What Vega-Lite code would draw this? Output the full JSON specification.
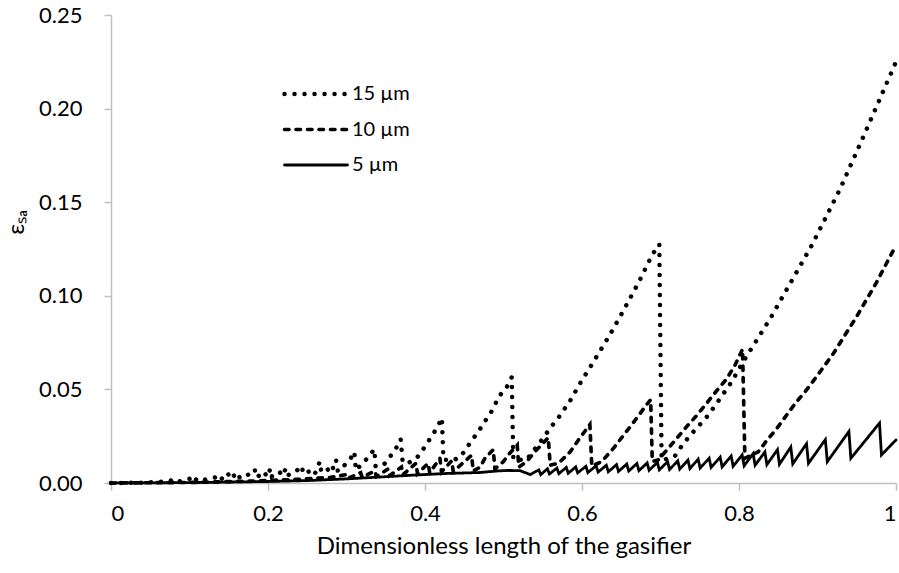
{
  "$schema": "https://vega.github.io/schema/vega-lite/v6.json",
  "width": 785,
  "height": 468,
  "autosize": {"type": "none"},
  "padding": {"left": 111, "top": 15, "right": 3, "bottom": 90},
  "background": "white",
  "config": {
    "view": {"stroke": null},
    "font": "Lato",
    "axis": {
      "grid": false,
      "domainColor": "#bfbfbf",
      "domainWidth": 1.5,
      "tickColor": "#bfbfbf",
      "tickWidth": 1.5,
      "tickSize": 7,
      "labelFont": "Lato",
      "labelFontSize": 22,
      "labelColor": "#000000",
      "titleFont": "Lato",
      "titleFontSize": 24,
      "titleFontWeight": "normal",
      "titleColor": "#000000"
    }
  },
  "data": {
    "values": [
      {"s": "15 µm", "x": 0, "y": 0},
      {"s": "15 µm", "x": 0.04, "y": 0.0002},
      {"s": "15 µm", "x": 0.07, "y": 0.0008},
      {"s": "15 µm", "x": 0.084, "y": 0.0019},
      {"s": "15 µm", "x": 0.086, "y": 0.0008},
      {"s": "15 µm", "x": 0.098, "y": 0.0018},
      {"s": "15 µm", "x": 0.107, "y": 0.0038},
      {"s": "15 µm", "x": 0.109, "y": 0.0012},
      {"s": "15 µm", "x": 0.125, "y": 0.0022},
      {"s": "15 µm", "x": 0.137, "y": 0.0034},
      {"s": "15 µm", "x": 0.139, "y": 0.0015},
      {"s": "15 µm", "x": 0.149, "y": 0.0054},
      {"s": "15 µm", "x": 0.151, "y": 0.0022},
      {"s": "15 µm", "x": 0.162, "y": 0.0056},
      {"s": "15 µm", "x": 0.164, "y": 0.0026},
      {"s": "15 µm", "x": 0.175, "y": 0.0045},
      {"s": "15 µm", "x": 0.183, "y": 0.0074},
      {"s": "15 µm", "x": 0.185, "y": 0.003},
      {"s": "15 µm", "x": 0.196, "y": 0.006},
      {"s": "15 µm", "x": 0.198, "y": 0.0032},
      {"s": "15 µm", "x": 0.2034, "y": 0.0077},
      {"s": "15 µm", "x": 0.205, "y": 0.0036},
      {"s": "15 µm", "x": 0.215, "y": 0.006},
      {"s": "15 µm", "x": 0.217, "y": 0.0038},
      {"s": "15 µm", "x": 0.223, "y": 0.0077},
      {"s": "15 µm", "x": 0.225, "y": 0.0042},
      {"s": "15 µm", "x": 0.234, "y": 0.0055},
      {"s": "15 µm", "x": 0.243, "y": 0.0091},
      {"s": "15 µm", "x": 0.245, "y": 0.0048},
      {"s": "15 µm", "x": 0.258, "y": 0.0072},
      {"s": "15 µm", "x": 0.26, "y": 0.0052},
      {"s": "15 µm", "x": 0.266, "y": 0.0114},
      {"s": "15 µm", "x": 0.268, "y": 0.0056},
      {"s": "15 µm", "x": 0.279, "y": 0.0077},
      {"s": "15 µm", "x": 0.281, "y": 0.006},
      {"s": "15 µm", "x": 0.2866, "y": 0.0125},
      {"s": "15 µm", "x": 0.289, "y": 0.0062},
      {"s": "15 µm", "x": 0.3036, "y": 0.0119},
      {"s": "15 µm", "x": 0.31, "y": 0.0167},
      {"s": "15 µm", "x": 0.312, "y": 0.0068},
      {"s": "15 µm", "x": 0.3236, "y": 0.0118},
      {"s": "15 µm", "x": 0.3355, "y": 0.018},
      {"s": "15 µm", "x": 0.337, "y": 0.009},
      {"s": "15 µm", "x": 0.347, "y": 0.0095},
      {"s": "15 µm", "x": 0.3546, "y": 0.0136},
      {"s": "15 µm", "x": 0.3618, "y": 0.0175},
      {"s": "15 µm", "x": 0.369, "y": 0.0234},
      {"s": "15 µm", "x": 0.3716, "y": 0.0108},
      {"s": "15 µm", "x": 0.38, "y": 0.011},
      {"s": "15 µm", "x": 0.387, "y": 0.0125},
      {"s": "15 µm", "x": 0.394, "y": 0.0155},
      {"s": "15 µm", "x": 0.401, "y": 0.0203},
      {"s": "15 µm", "x": 0.4085, "y": 0.0249},
      {"s": "15 µm", "x": 0.4157, "y": 0.0298},
      {"s": "15 µm", "x": 0.4215, "y": 0.0348},
      {"s": "15 µm", "x": 0.4235, "y": 0.0125},
      {"s": "15 µm", "x": 0.435, "y": 0.012},
      {"s": "15 µm", "x": 0.4446, "y": 0.0137},
      {"s": "15 µm", "x": 0.452, "y": 0.018},
      {"s": "15 µm", "x": 0.46, "y": 0.023},
      {"s": "15 µm", "x": 0.468, "y": 0.0274},
      {"s": "15 µm", "x": 0.475, "y": 0.0322},
      {"s": "15 µm", "x": 0.483, "y": 0.0369},
      {"s": "15 µm", "x": 0.489, "y": 0.0417},
      {"s": "15 µm", "x": 0.4947, "y": 0.0465},
      {"s": "15 µm", "x": 0.504, "y": 0.0511},
      {"s": "15 µm", "x": 0.5105, "y": 0.0565},
      {"s": "15 µm", "x": 0.5125, "y": 0.0125},
      {"s": "15 µm", "x": 0.5295, "y": 0.0123},
      {"s": "15 µm", "x": 0.537, "y": 0.0167},
      {"s": "15 µm", "x": 0.5456, "y": 0.0212},
      {"s": "15 µm", "x": 0.561, "y": 0.0302},
      {"s": "15 µm", "x": 0.57, "y": 0.0349},
      {"s": "15 µm", "x": 0.585, "y": 0.044},
      {"s": "15 µm", "x": 0.598, "y": 0.0536},
      {"s": "15 µm", "x": 0.612, "y": 0.063},
      {"s": "15 µm", "x": 0.6336, "y": 0.0778},
      {"s": "15 µm", "x": 0.6526, "y": 0.092},
      {"s": "15 µm", "x": 0.672, "y": 0.107},
      {"s": "15 µm", "x": 0.6896, "y": 0.122},
      {"s": "15 µm", "x": 0.6985, "y": 0.1275},
      {"s": "15 µm", "x": 0.7014, "y": 0.012},
      {"s": "15 µm", "x": 0.7185, "y": 0.0145},
      {"s": "15 µm", "x": 0.729, "y": 0.021},
      {"s": "15 µm", "x": 0.742, "y": 0.0274},
      {"s": "15 µm", "x": 0.752, "y": 0.032},
      {"s": "15 µm", "x": 0.761, "y": 0.0363},
      {"s": "15 µm", "x": 0.776, "y": 0.0452},
      {"s": "15 µm", "x": 0.7906, "y": 0.054},
      {"s": "15 µm", "x": 0.805, "y": 0.0646},
      {"s": "15 µm", "x": 0.84, "y": 0.088},
      {"s": "15 µm", "x": 0.8925, "y": 0.1268},
      {"s": "15 µm", "x": 0.9287, "y": 0.157},
      {"s": "15 µm", "x": 0.956, "y": 0.1827},
      {"s": "15 µm", "x": 0.972, "y": 0.198},
      {"s": "15 µm", "x": 1.0, "y": 0.225},

      {"s": "10 µm", "x": 0, "y": 0},
      {"s": "10 µm", "x": 0.1, "y": 0.0003},
      {"s": "10 µm", "x": 0.18, "y": 0.001},
      {"s": "10 µm", "x": 0.24, "y": 0.002},
      {"s": "10 µm", "x": 0.28, "y": 0.003},
      {"s": "10 µm", "x": 0.3, "y": 0.0045},
      {"s": "10 µm", "x": 0.302, "y": 0.0025},
      {"s": "10 µm", "x": 0.318, "y": 0.0055},
      {"s": "10 µm", "x": 0.32, "y": 0.003},
      {"s": "10 µm", "x": 0.336, "y": 0.0065},
      {"s": "10 µm", "x": 0.338, "y": 0.0035},
      {"s": "10 µm", "x": 0.353, "y": 0.0075},
      {"s": "10 µm", "x": 0.355, "y": 0.004},
      {"s": "10 µm", "x": 0.37, "y": 0.0085},
      {"s": "10 µm", "x": 0.372, "y": 0.0045},
      {"s": "10 µm", "x": 0.3885, "y": 0.0105},
      {"s": "10 µm", "x": 0.3905, "y": 0.005},
      {"s": "10 µm", "x": 0.404, "y": 0.0105},
      {"s": "10 µm", "x": 0.406, "y": 0.0055},
      {"s": "10 µm", "x": 0.419, "y": 0.0132},
      {"s": "10 µm", "x": 0.421, "y": 0.006},
      {"s": "10 µm", "x": 0.434, "y": 0.0118},
      {"s": "10 µm", "x": 0.436, "y": 0.0062},
      {"s": "10 µm", "x": 0.4594, "y": 0.0148},
      {"s": "10 µm", "x": 0.4614, "y": 0.0065},
      {"s": "10 µm", "x": 0.47, "y": 0.0084},
      {"s": "10 µm", "x": 0.4764, "y": 0.0132},
      {"s": "10 µm", "x": 0.487, "y": 0.0178},
      {"s": "10 µm", "x": 0.489, "y": 0.0075},
      {"s": "10 µm", "x": 0.4998, "y": 0.0114},
      {"s": "10 µm", "x": 0.508, "y": 0.0159},
      {"s": "10 µm", "x": 0.5175, "y": 0.0202},
      {"s": "10 µm", "x": 0.5195, "y": 0.0085},
      {"s": "10 µm", "x": 0.5295, "y": 0.0114},
      {"s": "10 µm", "x": 0.54, "y": 0.0167},
      {"s": "10 µm", "x": 0.557, "y": 0.0242},
      {"s": "10 µm", "x": 0.5595, "y": 0.0095},
      {"s": "10 µm", "x": 0.57, "y": 0.0105},
      {"s": "10 µm", "x": 0.585, "y": 0.0167},
      {"s": "10 µm", "x": 0.597, "y": 0.0239},
      {"s": "10 µm", "x": 0.61, "y": 0.0312},
      {"s": "10 µm", "x": 0.6125, "y": 0.009},
      {"s": "10 µm", "x": 0.625, "y": 0.0114},
      {"s": "10 µm", "x": 0.64, "y": 0.0185},
      {"s": "10 µm", "x": 0.6548, "y": 0.0265},
      {"s": "10 µm", "x": 0.6696, "y": 0.0346},
      {"s": "10 µm", "x": 0.682, "y": 0.0417},
      {"s": "10 µm", "x": 0.6875, "y": 0.0445},
      {"s": "10 µm", "x": 0.6895, "y": 0.0115},
      {"s": "10 µm", "x": 0.697, "y": 0.0123},
      {"s": "10 µm", "x": 0.708, "y": 0.0176},
      {"s": "10 µm", "x": 0.72, "y": 0.0235},
      {"s": "10 µm", "x": 0.733, "y": 0.03},
      {"s": "10 µm", "x": 0.746, "y": 0.036},
      {"s": "10 µm", "x": 0.7588, "y": 0.0426},
      {"s": "10 µm", "x": 0.771, "y": 0.049},
      {"s": "10 µm", "x": 0.784, "y": 0.0555},
      {"s": "10 µm", "x": 0.795, "y": 0.063},
      {"s": "10 µm", "x": 0.8045, "y": 0.0715},
      {"s": "10 µm", "x": 0.8075, "y": 0.0132},
      {"s": "10 µm", "x": 0.8246, "y": 0.0167},
      {"s": "10 µm", "x": 0.835, "y": 0.0225},
      {"s": "10 µm", "x": 0.848, "y": 0.029},
      {"s": "10 µm", "x": 0.861, "y": 0.0365},
      {"s": "10 µm", "x": 0.8735, "y": 0.0435},
      {"s": "10 µm", "x": 0.886, "y": 0.0497},
      {"s": "10 µm", "x": 0.8947, "y": 0.0545},
      {"s": "10 µm", "x": 0.92, "y": 0.069},
      {"s": "10 µm", "x": 0.95, "y": 0.089},
      {"s": "10 µm", "x": 0.975, "y": 0.107},
      {"s": "10 µm", "x": 1.0, "y": 0.127},

      {"s": "5 µm", "x": 0, "y": 0},
      {"s": "5 µm", "x": 0.1, "y": 0.0002},
      {"s": "5 µm", "x": 0.2, "y": 0.0008},
      {"s": "5 µm", "x": 0.25, "y": 0.0013},
      {"s": "5 µm", "x": 0.3, "y": 0.0022},
      {"s": "5 µm", "x": 0.343, "y": 0.0032},
      {"s": "5 µm", "x": 0.385, "y": 0.0042},
      {"s": "5 µm", "x": 0.428, "y": 0.0051},
      {"s": "5 µm", "x": 0.47, "y": 0.0056},
      {"s": "5 µm", "x": 0.491, "y": 0.0064},
      {"s": "5 µm", "x": 0.505, "y": 0.0067},
      {"s": "5 µm", "x": 0.521, "y": 0.0066},
      {"s": "5 µm", "x": 0.534, "y": 0.0045},
      {"s": "5 µm", "x": 0.545, "y": 0.007},
      {"s": "5 µm", "x": 0.5475, "y": 0.0045},
      {"s": "5 µm", "x": 0.556, "y": 0.0076},
      {"s": "5 µm", "x": 0.5585, "y": 0.0048},
      {"s": "5 µm", "x": 0.568, "y": 0.008},
      {"s": "5 µm", "x": 0.5705, "y": 0.005},
      {"s": "5 µm", "x": 0.58, "y": 0.0083},
      {"s": "5 µm", "x": 0.5825, "y": 0.0052},
      {"s": "5 µm", "x": 0.592, "y": 0.0086},
      {"s": "5 µm", "x": 0.5945, "y": 0.0054},
      {"s": "5 µm", "x": 0.605, "y": 0.0089},
      {"s": "5 µm", "x": 0.6075, "y": 0.0056},
      {"s": "5 µm", "x": 0.618, "y": 0.0092},
      {"s": "5 µm", "x": 0.6205, "y": 0.0058},
      {"s": "5 µm", "x": 0.631, "y": 0.0095},
      {"s": "5 µm", "x": 0.6335, "y": 0.006},
      {"s": "5 µm", "x": 0.644, "y": 0.0098},
      {"s": "5 µm", "x": 0.6465, "y": 0.0062},
      {"s": "5 µm", "x": 0.657, "y": 0.0101},
      {"s": "5 µm", "x": 0.6595, "y": 0.0064},
      {"s": "5 µm", "x": 0.67, "y": 0.0104},
      {"s": "5 µm", "x": 0.6725, "y": 0.0066},
      {"s": "5 µm", "x": 0.683, "y": 0.0107},
      {"s": "5 µm", "x": 0.6855, "y": 0.0068},
      {"s": "5 µm", "x": 0.696, "y": 0.011},
      {"s": "5 µm", "x": 0.6985, "y": 0.007},
      {"s": "5 µm", "x": 0.709, "y": 0.0114},
      {"s": "5 µm", "x": 0.7115, "y": 0.0072},
      {"s": "5 µm", "x": 0.722, "y": 0.0118},
      {"s": "5 µm", "x": 0.7245, "y": 0.0074},
      {"s": "5 µm", "x": 0.735, "y": 0.0122},
      {"s": "5 µm", "x": 0.7375, "y": 0.0077},
      {"s": "5 µm", "x": 0.748, "y": 0.0127},
      {"s": "5 µm", "x": 0.7505, "y": 0.008},
      {"s": "5 µm", "x": 0.762, "y": 0.0132},
      {"s": "5 µm", "x": 0.7645, "y": 0.0083},
      {"s": "5 µm", "x": 0.776, "y": 0.0138},
      {"s": "5 µm", "x": 0.7785, "y": 0.0086},
      {"s": "5 µm", "x": 0.79, "y": 0.0144},
      {"s": "5 µm", "x": 0.7925, "y": 0.0089},
      {"s": "5 µm", "x": 0.804, "y": 0.015},
      {"s": "5 µm", "x": 0.8065, "y": 0.0092},
      {"s": "5 µm", "x": 0.818, "y": 0.0157},
      {"s": "5 µm", "x": 0.8205, "y": 0.0095},
      {"s": "5 µm", "x": 0.833, "y": 0.0166},
      {"s": "5 µm", "x": 0.8355, "y": 0.0098},
      {"s": "5 µm", "x": 0.849, "y": 0.0178},
      {"s": "5 µm", "x": 0.8515, "y": 0.01},
      {"s": "5 µm", "x": 0.866, "y": 0.0192},
      {"s": "5 µm", "x": 0.8685, "y": 0.0102},
      {"s": "5 µm", "x": 0.886, "y": 0.021},
      {"s": "5 µm", "x": 0.8885, "y": 0.0105},
      {"s": "5 µm", "x": 0.91, "y": 0.0232},
      {"s": "5 µm", "x": 0.9125, "y": 0.0114},
      {"s": "5 µm", "x": 0.94, "y": 0.0275},
      {"s": "5 µm", "x": 0.9425, "y": 0.0132},
      {"s": "5 µm", "x": 0.979, "y": 0.032},
      {"s": "5 µm", "x": 0.9815, "y": 0.015},
      {"s": "5 µm", "x": 1.0, "y": 0.023}
    ]
  },
  "mark": {"type": "line", "color": "black", "strokeCap": "round", "strokeJoin": "miter", "clip": false},
  "encoding": {
    "x": {
      "field": "x",
      "type": "quantitative",
      "scale": {"domain": [0, 1], "nice": false, "zero": false},
      "axis": {
        "title": "Dimensionless length of the gasifier",
        "values": [0, 0.2, 0.4, 0.6, 0.8, 1],
        "format": "~g",
        "labelPadding": 13,
        "titlePadding": 10
      }
    },
    "y": {
      "field": "y",
      "type": "quantitative",
      "scale": {"domain": [0, 0.25], "nice": false},
      "axis": {
        "title": "εₛₐ",
        "values": [0, 0.05, 0.1, 0.15, 0.2, 0.25],
        "format": ".2f",
        "labelPadding": 22,
        "titlePadding": 10,
        "titleY": 207
      }
    },
    "strokeDash": {
      "field": "s",
      "type": "nominal",
      "scale": {"domain": ["15 µm", "10 µm", "5 µm"], "range": [[0.01, 10], [4.5, 7], [1, 0]]},
      "legend": {
        "title": null,
        "orient": "none",
        "legendX": 171,
        "legendY": 66,
        "padding": 0,
        "symbolType": "M-3,0H3",
        "symbolSize": 441,
        "symbolOffset": 21,
        "symbolStrokeColor": "black",
        "labelFont": "Lato",
        "labelFontSize": 20,
        "labelColor": "#000000",
        "labelOffset": 23,
        "rowPadding": 13,
        "encode": {"symbols": {"update": {"strokeCap": {"value": "round"}}}}
      }
    },
    "strokeWidth": {
      "field": "s",
      "type": "nominal",
      "scale": {"domain": ["15 µm", "10 µm", "5 µm"], "range": [4.5, 2.8, 4.2]},
      "legend": {
        "title": null,
        "orient": "none",
        "legendX": 171,
        "legendY": 66,
        "padding": 0,
        "symbolType": "M-3,0H3",
        "symbolSize": 441,
        "symbolOffset": 21,
        "symbolStrokeColor": "black",
        "labelFont": "Lato",
        "labelFontSize": 20,
        "labelColor": "#000000",
        "labelOffset": 23,
        "rowPadding": 13,
        "encode": {"symbols": {"update": {"strokeCap": {"value": "round"}}}}
      }
    }
  }
}
